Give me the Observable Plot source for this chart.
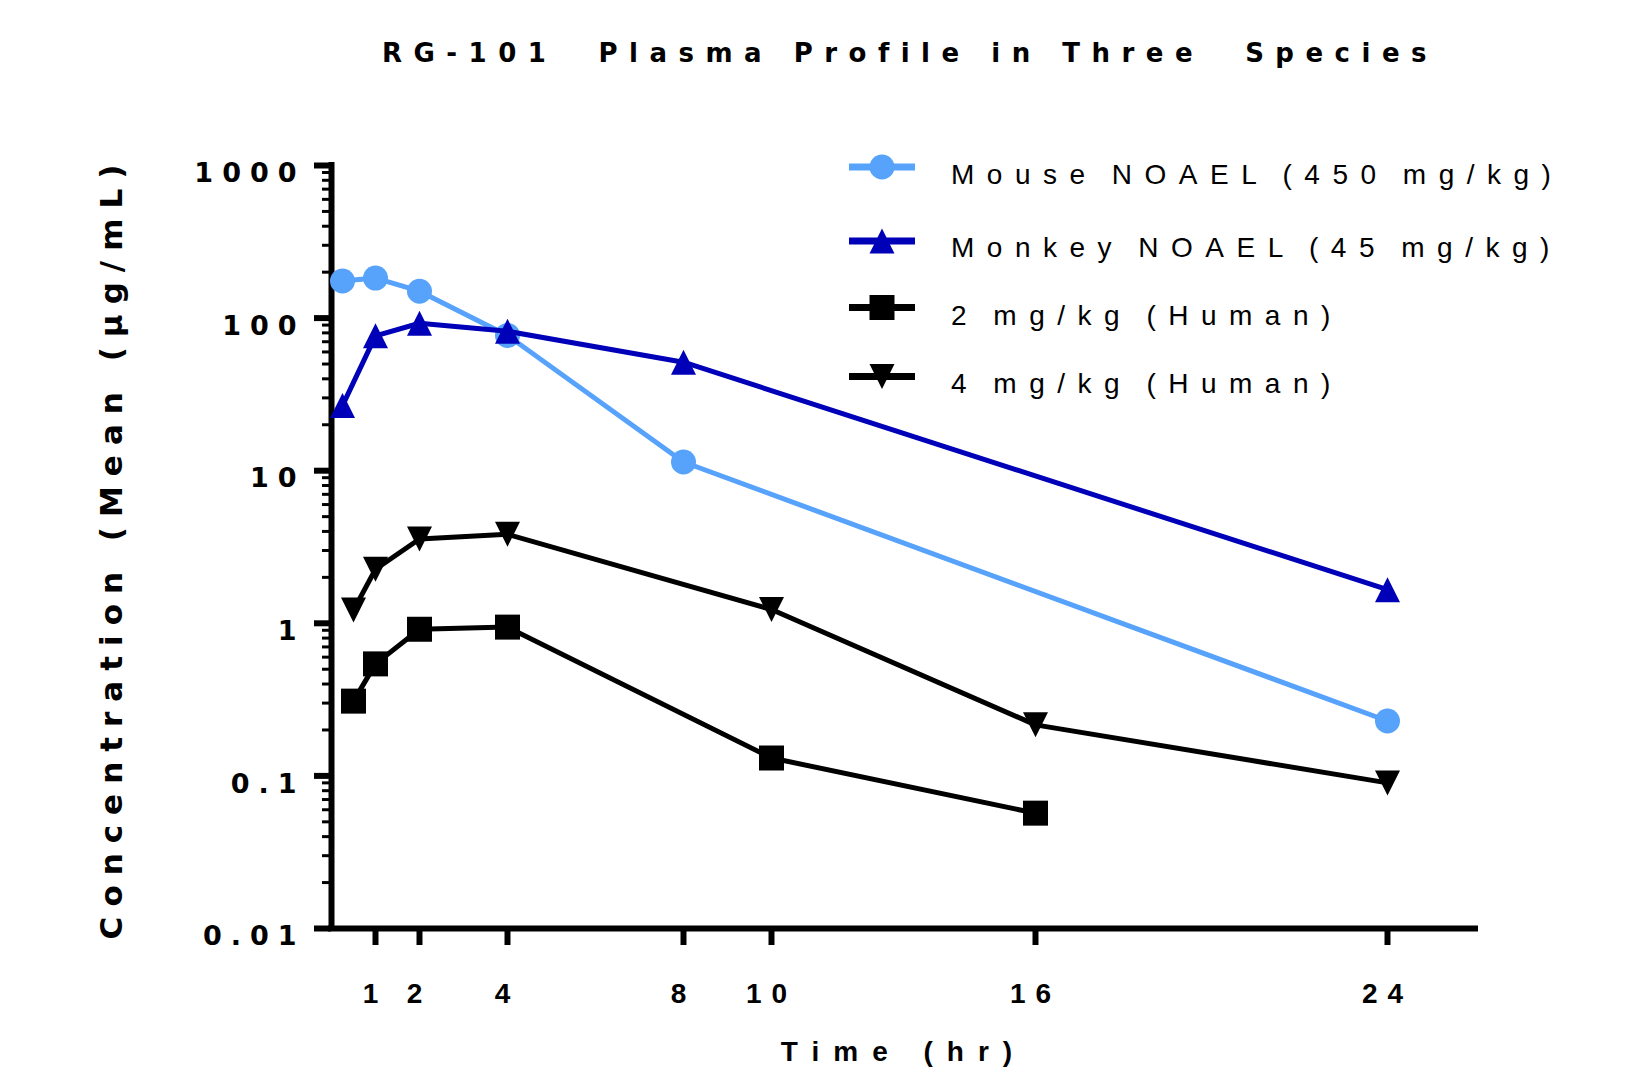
<!DOCTYPE html>
<html><head><meta charset="utf-8">
<script src="https://cdn.jsdelivr.net/npm/d3@7"></script>
<script src="https://cdn.jsdelivr.net/npm/@observablehq/plot@0.6"></script>
<style>
html,body{margin:0;padding:0;background:#fff;}
#wrap{position:relative;width:1625px;height:1067px;overflow:hidden;background:#fff;}
#title{display:block;}
#chart svg{display:block;}
#legend{position:absolute;left:0;top:0;pointer-events:none;}
</style></head><body>
<div id="wrap"><svg id="title" width="1625" height="100"></svg><div id="chart"></div><svg id="legend" width="1625" height="1067"></svg></div>
<script>
// ---------- data ----------
const chartTitle = "RG-101  Plasma Profile in Three  Species";
const xLabel = "Time (hr)";
const yLabel = "Concentration (Mean (µg/mL)";

const seriesNames = ["Mouse NOAEL (450 mg/kg)", "Monkey NOAEL (45 mg/kg)", "2 mg/kg (Human)", "4 mg/kg (Human)"];
const seriesColors = ["#57A2FA", "#0000B8", "#000000", "#000000"];

const mouseTime = [0.25, 1, 2, 4, 8, 24];
const mouseConc = [175, 183, 150, 77, 11.4, 0.229];
const monkeyTime = [0.25, 1, 2, 4, 8, 24];
const monkeyConc = [26.7, 76.5, 92.5, 82, 51.4, 1.66];
const human2Time = [0.5, 1, 2, 4, 10, 16];
const human2Conc = [0.309, 0.542, 0.914, 0.944, 0.131, 0.057];
const human4Time = [0.5, 1, 2, 4, 10, 16, 24];
const human4Conc = [1.22, 2.26, 3.57, 3.83, 1.23, 0.216, 0.090];

const xTickValues = [1, 2, 4, 8, 10, 16, 24];
const xTickLabels = ["1", "2", "4", "8", "10", "16", "24"];
const yTickValues = [0.01, 0.1, 1, 10, 100, 1000];
const yTickLabels = ["0.01", "0.1", "1", "10", "100", "1000"];

// ---------- symbols (bbox-centred like the original) ----------
const half = size => Math.sqrt(size / Math.PI);
const symCircle = {draw(ctx, size) { const h = half(size); ctx.moveTo(h, 0); ctx.arc(0, 0, h, 0, 2 * Math.PI); }};
const symTriUp = {draw(ctx, size) { const h = half(size); ctx.moveTo(0, -h); ctx.lineTo(h, h); ctx.lineTo(-h, h); ctx.closePath(); }};
const symSquare = {draw(ctx, size) { const h = half(size); ctx.moveTo(-h, -h); ctx.lineTo(h, -h); ctx.lineTo(h, h); ctx.lineTo(-h, h); ctx.closePath(); }};
const symTriDown = {draw(ctx, size) { const h = half(size); ctx.moveTo(0, h); ctx.lineTo(h, -h); ctx.lineTo(-h, -h); ctx.closePath(); }};
const seriesSymbols = [symCircle, symTriUp, symSquare, symTriDown];

const seriesTimes = [mouseTime, monkeyTime, human2Time, human4Time];
const seriesConcs = [mouseConc, monkeyConc, human2Conc, human4Conc];
const series = seriesNames.map((name, i) => ({
  name, color: seriesColors[i], symbol: seriesSymbols[i],
  data: seriesTimes[i].map((t, j) => ({time: t, conc: seriesConcs[i][j], series: name}))
}));

// minor log ticks (2..9 per decade)
const minorTicks = [];
for (let d = 0; d < yTickValues.length - 1; d++)
  for (let m = 2; m <= 9; m++) minorTicks.push(+(yTickValues[d] * m).toPrecision(3));

const MARKER_R = 12.5;
const noLabel = () => "";

// ---------- title ----------
d3.select("#title").append("text")
  .attr("x", 910).attr("y", 62)
  .attr("text-anchor", "middle")
  .attr("font-family", "DejaVu Sans").attr("font-weight", "bold").attr("font-size", 26)
  .style("letter-spacing", "11.5px").style("white-space", "pre")
  .text(chartTitle);

// ---------- chart ----------
const seriesMarks = [];
for (const s of series) {
  seriesMarks.push(Plot.line(s.data, {x: "time", y: "conc", stroke: s.color, strokeWidth: 5}));
  seriesMarks.push(Plot.dot(s.data, {x: "time", y: "conc", symbol: s.symbol, r: MARKER_R, fill: s.color, stroke: "none"}));
}

const chart = Plot.plot({
  width: 1625,
  height: 967,
  marginLeft: 331,
  marginRight: 150,
  marginTop: 65,
  marginBottom: 139,
  style: {background: "white", color: "black", overflow: "visible"},
  x: {domain: [0, 26]},
  y: {type: "log", domain: [0.01, 1000]},
  marks: [
    Plot.axisY({ticks: minorTicks, tickSize: 9, strokeWidth: 3, tickFormat: noLabel, label: null}),
    Plot.axisY({ticks: yTickValues, tickSize: 17, strokeWidth: 6, tickFormat: noLabel, label: null}),
    Plot.axisY({ticks: yTickValues, tickSize: 0, tickPadding: 26, dy: 8,
      tickFormat: d => yTickLabels[yTickValues.indexOf(d)],
      fontSize: 27, fontWeight: "bold", fontFamily: "DejaVu Sans", label: null}),
    Plot.axisY({ticks: [], tickSize: 0, label: yLabel, labelAnchor: "center", labelArrow: "none", labelOffset: 232,
      fontSize: 31, fontWeight: "bold", fontFamily: "DejaVu Sans"}),
    Plot.axisX({ticks: xTickValues, tickSize: 17, strokeWidth: 6, tickPadding: 38,
      tickFormat: d => xTickLabels[xTickValues.indexOf(d)],
      fontSize: 28, fontWeight: "bold", fontFamily: "Liberation Sans", label: null}),
    Plot.axisX({ticks: [], tickSize: 0, label: xLabel, labelAnchor: "center", labelArrow: "none", labelOffset: 132,
      fontSize: 28, fontWeight: "bold", fontFamily: "Liberation Sans"}),
    Plot.ruleX([0], {strokeWidth: 6, strokeLinecap: "square"}),
    Plot.ruleY([0.01], {strokeWidth: 6, strokeLinecap: "square"}),
    ...seriesMarks
  ]
});
document.getElementById("chart").appendChild(chart);

const csvg = d3.select(chart);
csvg.selectAll('g[aria-label="y-axis tick label"]').style("letter-spacing", "9px");
csvg.selectAll('g[aria-label="x-axis tick label"]').style("letter-spacing", "10px");
csvg.selectAll('g[aria-label="y-axis label"]').style("letter-spacing", "10px");
csvg.selectAll('g[aria-label="x-axis label"]').style("letter-spacing", "14px");

// ---------- legend ----------
const leg = d3.select("#legend");
const legendRowY = [167, 241, 307.5, 376.5];
const legendTextDy = [17, 16, 17.5, 16.5];
series.forEach((s, i) => {
  const g = leg.append("g").attr("transform", `translate(882,${legendRowY[i]})`);
  g.append("line").attr("x1", -33).attr("x2", 33).attr("y1", 0).attr("y2", 0)
    .attr("stroke", s.color).attr("stroke-width", 7);
  g.append("path").attr("d", d3.symbol().type(s.symbol).size(Math.PI * MARKER_R * MARKER_R)())
    .attr("fill", s.color);
  g.append("text").attr("x", 69).attr("y", legendTextDy[i])
    .attr("font-family", "Liberation Sans").attr("font-size", 28)
    .style("letter-spacing", "12.5px").style("word-spacing", "-6px")
    .text(s.name);
});
</script>
</body></html>
